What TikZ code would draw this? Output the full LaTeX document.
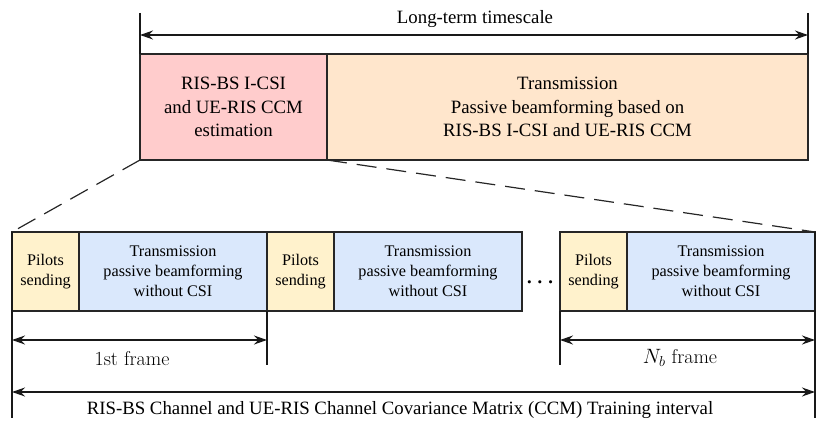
\documentclass[tikz,border=0pt]{standalone}
\usepackage{amsmath,amssymb}
\usepackage{fontspec}
\newfontfamily\timesfont{Liberation Serif}
\usepackage{tikz}
\usetikzlibrary{arrows.meta,positioning}
\definecolor{estpink}{HTML}{FFCCCC}
\definecolor{txpeach}{HTML}{FFE6CC}
\definecolor{pilotyellow}{HTML}{FFF2CC}
\definecolor{txblue}{HTML}{DAE8FC}
\begin{document}
\begin{tikzpicture}[x=1pt,y=-1pt]

	\tikzstyle{block}=[draw=black!85,line width=1.3pt,inner sep=0pt,outer sep=0pt,align=center]
	\tikzstyle{bigtext}=[font=\timesfont\fontsize{18.8}{23.5}\selectfont]
	\tikzstyle{smalltext}=[font=\timesfont\fontsize{16.2}{20}\selectfont]
	\tikzstyle{cmtext}=[font=\fontsize{20}{20}\selectfont]
	\tikzstyle{pilot}=[block,smalltext,fill=pilotyellow,minimum width=67,minimum height=79]
	\tikzstyle{txbox}=[block,smalltext,fill=txblue,minimum width=188,minimum height=79]
	\tikzstyle{tick}=[line width=1.2pt,black!90]
	\tikzstyle{dim}=[tick,{Stealth[length=13pt,width=9pt]}-{Stealth[length=13pt,width=9pt]}]
	\tikzstyle{zoomline}=[line width=1.2pt,black!85,dash pattern=on 20pt off 10pt]

	\useasboundingbox (0,0) rectangle (830,436);

	% long-term block
	\node[block,bigtext,fill=estpink,minimum width=187,minimum height=106,anchor=north west] (est) at (140,54)
		{RIS-BS I-CSI\\and UE-RIS CCM\\estimation};
	\node[block,bigtext,fill=txpeach,minimum width=481,minimum height=106,anchor=north west] (trans) at (est.north east)
		{Transmission\\Passive beamforming based on\\RIS-BS I-CSI and UE-RIS CCM};

	\coordinate (ltop) at (140,13);
	\coordinate (rtop) at (808,13);
	\coordinate (larr) at (140,35);
	\coordinate (rarr) at (808,35);
	\draw[tick] (ltop) -- (est.north west);
	\draw[tick] (rtop) -- (trans.north east);
	\draw[dim] (larr) -- (rarr);
	\node[bigtext] (longlbl) at (475,19) {Long-term timescale};

	% frames
	\node[pilot,anchor=north west] (p1) at (12,232) {Pilots\\sending};
	\node[txbox,right=0pt of p1] (t1) {Transmission\\passive beamforming\\without CSI};
	\node[pilot,right=0pt of t1] (p2) {Pilots\\sending};
	\node[txbox,right=0pt of p2] (t2) {Transmission\\passive beamforming\\without CSI};
	\node[pilot,anchor=north west] (p3) at (560,232) {Pilots\\sending};
	\node[txbox,right=0pt of p3] (t3) {Transmission\\passive beamforming\\without CSI};
	\node[font=\fontsize{22}{22}\selectfont] (dots) at (542,283) {$\boldsymbol{\cdots}$};

	% zoom lines
	\draw[zoomline] (est.south west) -- (p1.north west);
	\draw[zoomline] (est.south east) -- (t3.north east);

	% frame lengths
	\coordinate (lbot) at (12,418);
	\coordinate (rbot) at (815,418);
	\coordinate (m1) at (267,365);
	\coordinate (m2) at (560,365);
	\draw[tick] (p1.north west) -- (lbot);
	\draw[tick] (t3.north east) -- (rbot);
	\draw[tick] (t1.south east) -- (m1);
	\draw[tick] (p3.south west) -- (m2);

	\coordinate (f1l) at (12,340);
	\coordinate (f1r) at (267,340);
	\coordinate (f2l) at (560,340);
	\coordinate (f2r) at (815,340);
	\coordinate (al) at (12,392);
	\coordinate (ar) at (815,392);
	\draw[dim] (f1l) -- (f1r);
	\draw[dim] (f2l) -- (f2r);
	\draw[dim] (al) -- (ar);
	\node[cmtext] (firstlbl) at (132,359) {1st frame};
	\node[cmtext] (lastlbl) at (680,358) {$N_b$ frame};
	\node[bigtext] (intlbl) at (400,410) {RIS-BS Channel and UE-RIS Channel Covariance Matrix (CCM) Training interval};

\end{tikzpicture}
\end{document}
